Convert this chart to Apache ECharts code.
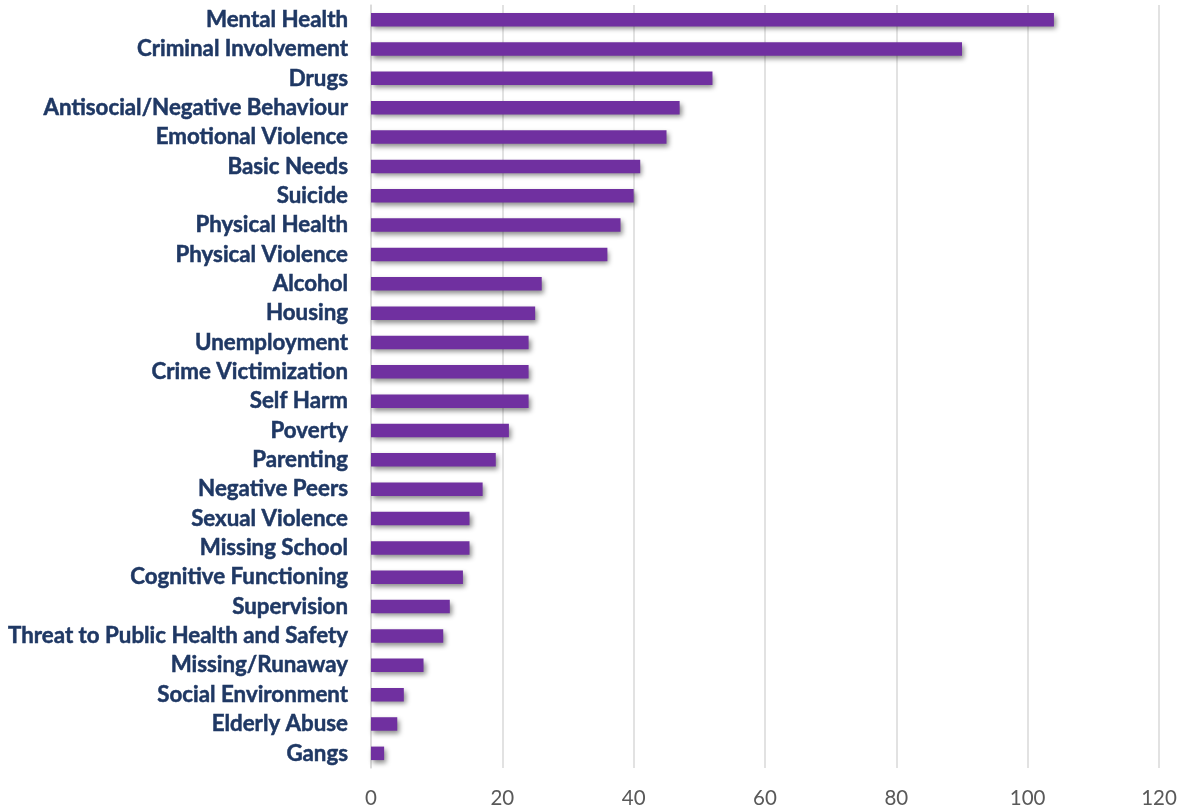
<!DOCTYPE html>
<html><head><meta charset="utf-8">
<script src="https://cdn.jsdelivr.net/npm/echarts@6/dist/echarts.min.js"></script>
<style>html,body{margin:0;padding:0;background:#fff}#c{width:1185px;height:811px}</style>
</head><body><div id="c"></div>
<script>
const categories = ["Mental Health","Criminal Involvement","Drugs","Antisocial/Negative Behaviour","Emotional Violence","Basic Needs","Suicide","Physical Health","Physical Violence","Alcohol","Housing","Unemployment","Crime Victimization","Self Harm","Poverty","Parenting","Negative Peers","Sexual Violence","Missing School","Cognitive Functioning","Supervision","Threat to Public Health and Safety","Missing/Runaway","Social Environment","Elderly Abuse","Gangs"];
const values = [104,90,52,47,45,41,40,38,36,26,25,24,24,24,21,19,17,15,15,14,12,11,8,5,4,2];
const xTicks = [0,20,40,60,80,100,120];

const chart = echarts.init(document.getElementById('c'));
chart.setOption({
  animation:false,
  grid:{left:371,right:26,top:5,bottom:43,containLabel:false},
  xAxis:{type:'value',min:xTicks[0],max:xTicks[xTicks.length-1],interval:20,
    axisLine:{show:false},axisTick:{show:false},
    splitLine:{lineStyle:{color:'#d9d9d9',width:1.5}},
    axisLabel:{color:'#595959',fontSize:20.5,fontFamily:'Lato',margin:20}},
  yAxis:{type:'category',inverse:true,data:categories,
    axisLine:{show:true,lineStyle:{color:'#d9d9d9',width:1.5}},axisTick:{show:false},
    axisLabel:{color:'#1f3864',fontSize:22.3,fontWeight:'bold',fontFamily:'Lato',margin:23,
      textBorderColor:'#1f3864',textBorderWidth:0.5}},
  series:[{type:'bar',data:values,barWidth:13.5,
    itemStyle:{color:'#7030a0',shadowColor:'rgba(0,0,0,0.45)',shadowBlur:5,shadowOffsetX:2,shadowOffsetY:3}}]
});
</script></body></html>
